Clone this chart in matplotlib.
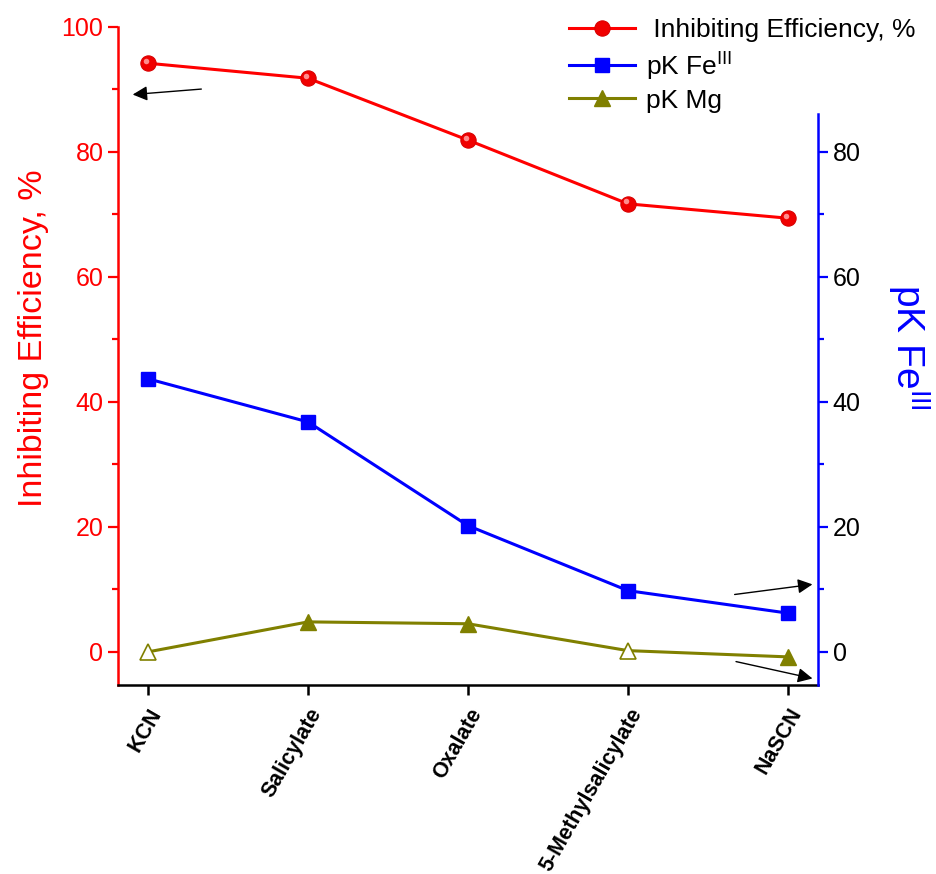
import matplotlib
matplotlib.use('Agg')
import matplotlib.pyplot as plt
import matplotlib.transforms as mtransforms
from matplotlib.ticker import MultipleLocator, FixedLocator

plt.rcParams['font.family'] = ['Liberation Sans', 'DejaVu Sans']
plt.rcParams['mathtext.fontset'] = 'custom'
plt.rcParams['mathtext.rm'] = 'Liberation Sans'

categories = ['KCN', 'Salicylate', 'Oxalate', '5-Methylsalicylate', 'NaSCN']
inhibiting_eff = [94.2, 91.8, 81.9, 71.7, 69.4]
pk_fe = [43.7, 36.8, 20.2, 9.8, 6.2]
pk_mg = [0.0, 4.8, 4.5, 0.2, -0.8]
mg_hollow = [True, False, False, True, False]

RED = '#ff0000'
BLUE = '#0000ff'
OLIVE = '#808000'

fig = plt.figure(figsize=(9.36, 8.74), dpi=100)
ax = fig.add_axes([118 / 936, 1 - 685 / 874, 700 / 936, 658 / 874])
ax2 = ax.twinx()

x = list(range(len(categories)))

ax.plot(x, inhibiting_eff, color=RED, lw=2.2, marker='o', ms=11,
        mfc='#f00000', mec='#d80000', mew=0.8, zorder=3,
        label=' Inhibiting Efficiency, %')
# small offset highlight to mimic the shaded spheres
hl = mtransforms.offset_copy(ax.transData, fig=fig, x=-2.5, y=2.5, units='dots')
ax.plot(x, inhibiting_eff, ls='none', marker='o', ms=4, mfc='#ff8c8c',
        mec='none', zorder=4, transform=hl)

ax2.plot(x, pk_fe, color=BLUE, lw=2.2, marker='s', ms=10.5, mfc=BLUE,
         mec=BLUE, zorder=3, label=r'pK Fe$^{\mathrm{III}}$')
filled = [i for i, h in enumerate(mg_hollow) if not h]
hollow = [i for i, h in enumerate(mg_hollow) if h]
ax2.plot(x, pk_mg, color=OLIVE, lw=2.2, marker='^', ms=12, mfc=OLIVE,
         mec=OLIVE, markevery=filled, zorder=3, label='pK Mg')
ax2.plot([x[i] for i in hollow], [pk_mg[i] for i in hollow], ls='none',
         marker='^', ms=12, mfc='white', mec=OLIVE, mew=1.2, zorder=4)

ylim = (-5.3, 100)
ax.set_ylim(*ylim)
ax2.set_ylim(*ylim)
ax.set_xlim(-0.1875, 4.1875)

# left axis (red)
ax.yaxis.set_major_locator(MultipleLocator(20))
ax.yaxis.set_minor_locator(FixedLocator([10, 30, 50, 70, 90]))
ax.tick_params(axis='y', colors=RED, labelsize=18, width=1.6, length=7)
ax.tick_params(axis='y', which='minor', colors=RED, width=1.6, length=4)
ax.spines['left'].set_color(RED)
ax.spines['left'].set_linewidth(1.8)
ax.set_ylabel('Inhibiting Efficiency, %', color=RED, fontsize=24.5, labelpad=9)
ax.yaxis.label.set_y(0.527)

# bottom axis
ax.set_xticks(x)
ax.set_xticklabels(categories, rotation=60, ha='right', va='top',
                   rotation_mode='anchor', fontsize=15.5, fontweight='bold')
ax.tick_params(axis='x', width=1.8, length=7, pad=7)
ax.spines['bottom'].set_linewidth(1.8)

for s in ('top', 'right'):
    ax.spines[s].set_visible(False)
ax2.spines['top'].set_visible(False)
ax2.spines['left'].set_visible(False)
ax2.spines['bottom'].set_visible(False)

# right axis (blue)
ax2.spines['right'].set_color(BLUE)
ax2.spines['right'].set_linewidth(1.8)
ax2.spines['right'].set_bounds(ylim[0], 86)
ax2.yaxis.set_major_locator(FixedLocator([0, 20, 40, 60, 80]))
ax2.yaxis.set_minor_locator(FixedLocator([10, 30, 50, 70]))
ax2.tick_params(axis='y', colors=BLUE, labelcolor='black', labelsize=18,
                width=1.6, length=7)
ax2.tick_params(axis='y', which='minor', colors=BLUE, width=1.6, length=4)
ax2.set_ylabel(r'pK Fe$^{\mathrm{III}}$', color=BLUE, fontsize=28,
               rotation=-90, labelpad=51)
ax2.yaxis.label.set_y(0.514)

# arrows pointing at the relevant axes
arrow = dict(arrowstyle='-|>', color='black', lw=1.0, mutation_scale=22)
ax.annotate('', xy=(0.017, 0.897), xytext=(0.123, 0.906),
            xycoords='axes fraction', arrowprops=arrow)
ax.annotate('', xy=(0.996, 0.1535), xytext=(0.877, 0.137),
            xycoords='axes fraction', arrowprops=arrow)
ax.annotate('', xy=(0.996, 0.009), xytext=(0.879, 0.0365),
            xycoords='axes fraction', arrowprops=arrow)

h1, l1 = ax.get_legend_handles_labels()
h2, l2 = ax2.get_legend_handles_labels()
leg = fig.legend(h1[:1] + h2, l1[:1] + l2, loc='upper right',
                 bbox_to_anchor=(0.995, 0.997), frameon=False, fontsize=19,
                 handlelength=2.5, handletextpad=0.4, labelspacing=0.25,
                 borderaxespad=0.2)

fig.savefig('out.png', dpi=100)
